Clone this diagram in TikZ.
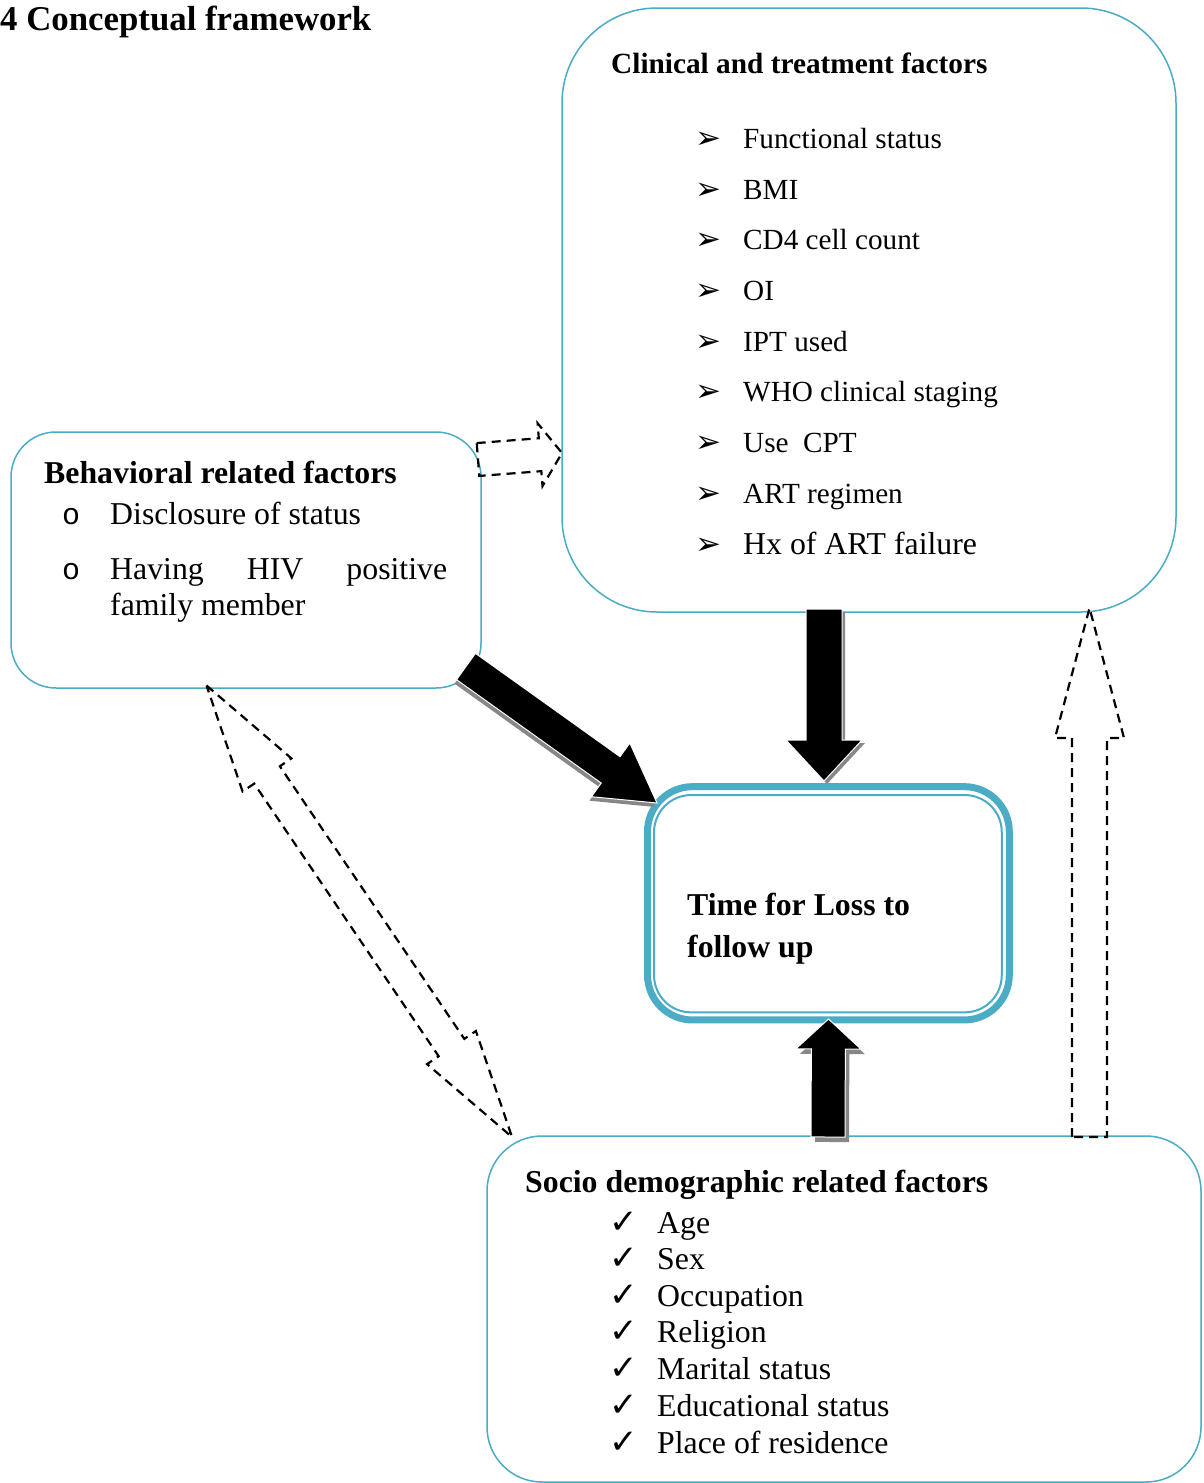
\documentclass[tikz,border=0pt]{standalone}
\usepackage{fontspec}
\setmainfont{Liberation Serif}
\newfontfamily\dejavu{DejaVu Sans}
\newfontfamily\monof{Liberation Mono}
\usetikzlibrary{calc}
\definecolor{boxblue}{RGB}{75,172,198}
\definecolor{shadowgray}{RGB}{135,135,135}
% block arrow: #1 style, #2 tail, #3 tip, #4 shaft half width, #5 head half width, #6 head length
\newcommand{\blockarrow}[6]{%
  \coordinate (hb) at ($(#3)!#6!(#2)$);
  \path[#1] ($(#2)!#4!90:(#3)$) -- ($(hb)!#4!90:(#3)$) -- ($(hb)!#5!90:(#3)$) -- (#3)
    -- ($(hb)!#5!-90:(#3)$) -- ($(hb)!#4!-90:(#3)$) -- ($(#2)!#4!-90:(#3)$) -- cycle;
}
% double block arrow: #1 style, #2 tip A, #3 tip B, #4 shaft half width, #5 head half width, #6 head length
\newcommand{\dblarrow}[6]{%
  \coordinate (hbA) at ($(#2)!#6!(#3)$);
  \coordinate (hbB) at ($(#3)!#6!(#2)$);
  \path[#1] (#2) -- ($(hbA)!#5!90:(#3)$) -- ($(hbA)!#4!90:(#3)$) -- ($(hbB)!#4!-90:(#2)$)
    -- ($(hbB)!#5!-90:(#2)$) -- (#3) -- ($(hbB)!#5!90:(#2)$) -- ($(hbB)!#4!90:(#2)$)
    -- ($(hbA)!#4!-90:(#3)$) -- ($(hbA)!#5!-90:(#3)$) -- cycle;
}
\begin{document}
\begin{tikzpicture}[x=1pt,y=-1pt,
  box/.style={draw=boxblue, line width=1.5pt, inner sep=0pt, rectangle},
  txt/.style={anchor=base west, inner sep=0pt, font=\fontsize{29.2}{35}\selectfont},
  txtL/.style={anchor=base west, inner sep=0pt, font=\fontsize{31.8}{38}\selectfont},
  btxt/.style={anchor=base west, inner sep=0pt, font=\fontsize{29.3}{35}\selectfont\bfseries},
  btxtL/.style={anchor=base west, inner sep=0pt, font=\fontsize{31.8}{38}\selectfont\bfseries},
  arrowmark/.style={anchor=base west, inner sep=0pt, font=\dejavu\fontsize{31}{36}\selectfont},
  checkmark/.style={anchor=base west, inner sep=0pt, font=\dejavu\fontsize{34}{40}\selectfont},
  circmark/.style={anchor=base west, inner sep=0pt, font=\monof\fontsize{30}{36}\selectfont},
  dasharrow/.style={draw=black, line width=2.2pt, dash pattern=on 9pt off 6pt},
  blackarrow/.style={fill=black, draw=white, line width=1pt},
  shadowarrow/.style={fill=shadowgray}]
\useasboundingbox (0,0) rectangle (1203,1483);
\fill[white] (0,0) rectangle (1203,1483);

% title
\node[anchor=base west, inner sep=0pt, font=\fontsize{34.8}{40}\selectfont\bfseries] (title) at (0,30) {4 Conceptual framework};

% boxes
\node[box, minimum width=614pt, minimum height=604pt, rounded corners=95pt] (clin) at (869,310) {};
\node[box, minimum width=470pt, minimum height=256pt, rounded corners=45pt] (behav) at (246,560) {};
\node[box, minimum width=714pt, minimum height=346pt, rounded corners=55pt] (socio) at (844,1309) {};
\node[draw=boxblue, line width=7pt, inner sep=0pt, minimum width=361.8pt, minimum height=233.3pt, rounded corners=45pt] (ctr) at (828.4,903.3) {};
\node[draw=boxblue, line width=2pt, inner sep=0pt, minimum width=347.7pt, minimum height=217.3pt, rounded corners=37pt] (ctrin) at (827.9,903.7) {};

% clinical text
\node[btxt] (cT) at (611,73) {Clinical and treatment factors};
\foreach \y/\t [count=\i] in {148/Functional status, 199/BMI, 249/CD4 cell count, 300/OI, 351/IPT used, 401/WHO clinical staging, 452/Use\ \ CPT, 503/ART regimen}{
  \node[arrowmark] (cm\i) at (695,\y) {➢};
  \node[txt] (ci\i) at (743,\y) {\t};
}
\node[arrowmark] (cm9) at (695,554) {➢};
\node[txtL] (ci9) at (743,554) {Hx of ART failure};

% behavioral text
\node[btxtL] (bT) at (44,483) {Behavioral related factors};
\node[circmark] (bm1) at (62,524) {o};
\node[txtL] (bi1) at (110,524) {Disclosure of status};
\node[circmark] (bm2) at (62,579) {o};
\node[txtL] (bi2) at (110,579) {\hbox to 337pt{Having\hfill HIV\hfill positive}};
\node[txtL] (bi3) at (110,615) {family member};

% center text
\node[btxtL] (t1) at (687,915) {Time for Loss to};
\node[btxtL] (t2) at (687,957) {follow up};

% socio text
\node[btxtL] (sT) at (525,1192) {Socio demographic related factors};
\foreach \y/\t [count=\i] in {1233/Age, 1269/Sex, 1306/Occupation, 1342/Religion, 1379/Marital status, 1416/Educational status, 1453/Place of residence}{
  \node[checkmark] (sm\i) at (609,\y) {✓};
  \node[txtL] (si\i) at (657,\y) {\t};
}

% arrow end points
\coordinate (a1t) at (478,459.5);  \coordinate (a1h) at (562,453);
\coordinate (a2t) at (466,666.5);  \coordinate (a2h) at (657,803);
\coordinate (a3t) at (824,609);    \coordinate (a3h) at (824,781);
\coordinate (a4t) at (828,1137);   \coordinate (a4h) at (828.5,1019);
\coordinate (a5a) at (206.5,685.5); \coordinate (a5b) at (512,1137);
\coordinate (a6t) at (1089.5,1137); \coordinate (a6h) at (1089.5,608);

% dashed arrows
\blockarrow{dasharrow}{a1t}{a1h}{16.5pt}{31.5pt}{22pt}
\dblarrow{dasharrow}{a5a}{a5b}{15.5pt}{29.5pt}{108pt}
\blockarrow{dasharrow}{a6t}{a6h}{17.5pt}{34.5pt}{130pt}

% shadows of black arrows
\begin{scope}[transform canvas={xshift=-2pt,yshift=-4pt}]
  \blockarrow{shadowarrow}{a2t}{a2h}{16.2pt}{33pt}{57pt}
\end{scope}
\begin{scope}[transform canvas={xshift=3pt,yshift=-3pt}]
  \blockarrow{shadowarrow}{a3t}{a3h}{18pt}{38pt}{41pt}
\end{scope}
\begin{scope}[transform canvas={xshift=4pt,yshift=-5pt}]
  \blockarrow{shadowarrow}{a4t}{a4h}{17pt}{32.5pt}{30pt}
\end{scope}

% black arrows
\blockarrow{blackarrow}{a2t}{a2h}{16.2pt}{33pt}{57pt}
\blockarrow{blackarrow}{a3t}{a3h}{18pt}{38pt}{41pt}
\blockarrow{blackarrow}{a4t}{a4h}{17pt}{32.5pt}{30pt}
\end{tikzpicture}
\end{document}
